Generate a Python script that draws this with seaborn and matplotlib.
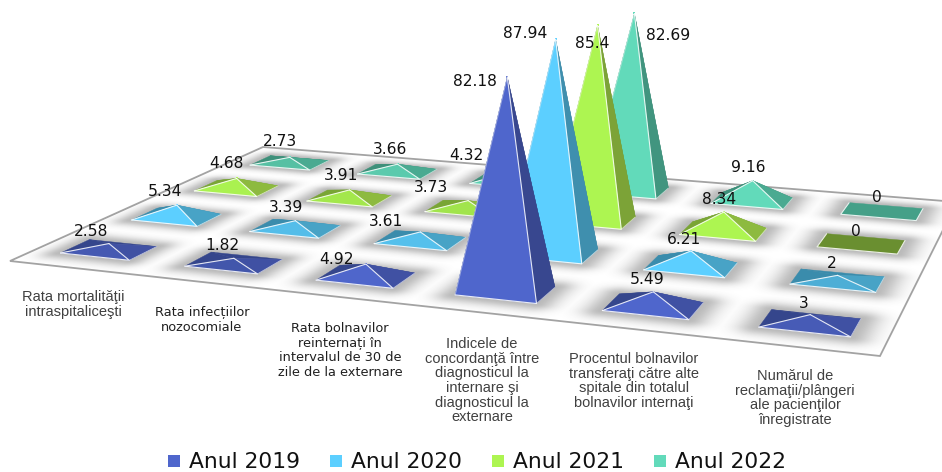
import numpy as np
import pandas as pd
import seaborn as sns
import matplotlib
matplotlib.use("Agg")
import matplotlib.pyplot as plt
from matplotlib.patches import Polygon

# Indicators along the front edge of the floor
categories = [
    "Rata mortalităţii\nintraspitaliceşti",
    "Rata infecțiilor\nnozocomiale",
    "Rata bolnavilor\nreinternați în\nintervalul de 30 de\nzile de la externare",
    "Indicele de\nconcordanţă între\ndiagnosticul la\ninternare şi\ndiagnosticul la\nexternare",
    "Procentul bolnavilor\ntransferaţi către alte\nspitale din totalul\nbolnavilor internaţi",
    "Numărul de\nreclamaţii/plângeri\nale pacienţilor\nînregistrate",
]
years = ["Anul 2019", "Anul 2020", "Anul 2021", "Anul 2022"]

values_2019 = [2.58, 1.82, 4.92, 82.18, 5.49, 3]
values_2020 = [5.34, 3.39, 3.61, 87.94, 6.21, 2]
values_2021 = [4.68, 3.91, 3.73, 85.4, 8.34, 0]
values_2022 = [2.73, 3.66, 4.32, 82.69, 9.16, 0]
series = [values_2019, values_2020, values_2021, values_2022]

front_colors = ["#4F66CC", "#5CCFFF", "#ADF551", "#62DABA"]
side_colors = ["#38478F", "#3F8FAE", "#7CA337", "#41957F"]
rear_colors = ["#30407F", "#357F9C", "#6E9630", "#37836F"]
flat_colors = ["#3D4E9B", "#3F8FAE", "#6A8F30", "#45A088"]

# Perspective of the floor: front-left, front-right, back-right, back-left, in pixels
FLOOR = np.array([[10, 261], [880, 356], [957, 202], [263, 147]], float)
HALF_U = 0.28 / 6
HALF_V = 0.195 / 4
HEIGHT_SCALE = 2.57

# Value label centres, in pixels, one row per year
label_x = [[91, 222, 337, 475, 647, 804],
           [165, 286, 386, 525, 684, 832],
           [226, 341, 431, 592, 719, 856],
           [280, 390, 466, 668, 748, 877]]
label_y = [[232, 246, 260, 82, 280, 303],
           [192, 207, 222, 34, 239, 263],
           [164, 176, 188, 44, 199, 231],
           [142, 150, 155, 36, 167, 198]]

# Indicator label centres and styling
cat_x = [73, 202, 340, 482, 634, 795]
cat_top = [297, 313, 329, 344, 359, 376]
cat_font = ["Liberation Sans", "DejaVu Sans", "DejaVu Sans",
            "Liberation Sans", "Liberation Sans", "Liberation Sans"]
cat_size = [10.5, 9.3, 9.3, 10.5, 10.5, 10.5]
cat_space = [1.06, 1.17, 1.17, 1.06, 1.06, 1.06]
cat_color = ["#404040", "#202020", "#202020", "#404040", "#404040", "#404040"]


def homography(src, dst):
    rows, rhs = [], []
    for (a, b), (c, d) in zip(src, dst):
        rows.append([a, b, 1, 0, 0, 0, -a * c, -b * c])
        rows.append([0, 0, 0, a, b, 1, -a * d, -b * d])
        rhs += [c, d]
    return np.append(np.linalg.solve(np.array(rows), np.array(rhs)), 1).reshape(3, 3)


UNIT = [(0, 0), (1, 0), (1, 1), (0, 1)]
H = homography(UNIT, FLOOR)
H = H / (H[2] @ [0.5, 0.125, 1])
H_INV = np.linalg.inv(H)


def project(u, v, z=0.0):
    p = H @ [u, v, 1]
    lean = 0.012 + 0.09 * v
    return ((p[0] + lean * z) / p[2], (p[1] - HEIGHT_SCALE * z) / p[2])


def shade(color, factor):
    return tuple(np.clip(np.array(matplotlib.colors.to_rgb(color)) * factor, 0, 1))


def base_centre(col, row):
    return (col + 0.5) / 6, (row + 0.5) / 4


sns.set_theme(style="white")
plt.rcParams["font.family"] = ["DejaVu Sans"]

fig = plt.figure(figsize=(9.42, 4.72), dpi=100)
ax = fig.add_axes([0, 0, 1, 1])

# Soft halo around every base, evaluated on the floor plane
gx, gy = np.meshgrid(np.arange(942) + 0.5, np.arange(472) + 0.5)
hom = H_INV[0, 0] * gx + H_INV[0, 1] * gy + H_INV[0, 2], \
      H_INV[1, 0] * gx + H_INV[1, 1] * gy + H_INV[1, 2], \
      H_INV[2, 0] * gx + H_INV[2, 1] * gy + H_INV[2, 2]
fu, fv = hom[0] / hom[2], hom[1] / hom[2]
halo = np.zeros_like(gx)
for r in range(4):
    for c in range(6):
        uc, vc = base_centre(c, r)
        du = np.maximum(np.abs(fu - uc) - HALF_U, 0) * 700
        dv = np.maximum(np.abs(fv - vc) - HALF_V, 0) * 380
        halo = np.maximum(halo, 0.36 * np.exp(-((du ** 2 + dv ** 2) / 15.0 ** 2)))
rgba = np.zeros(gx.shape + (4,))
rgba[..., :3] = 0.25
rgba[..., 3] = halo
floor_poly = Polygon(FLOOR, closed=True, facecolor="white", edgecolor="#A3A3A3", lw=1.3, zorder=1)
ax.add_patch(floor_poly)
image = ax.imshow(rgba, extent=(0, 942, 472, 0), zorder=2, interpolation="bilinear", aspect="auto")
image.set_clip_path(floor_poly)

# Apex positions, through seaborn, which also supplies the legend entries
records = []
for r, (year, vals) in enumerate(zip(years, series)):
    for c, val in enumerate(vals):
        uc, vc = base_centre(c, r)
        sx, sy = project(uc, vc, val)
        records.append({"Anul": year, "indicator": c, "valoare": val, "sx": sx, "sy": sy})
apexes = pd.DataFrame(records)
sns.scatterplot(data=apexes, x="sx", y="sy", hue="Anul", hue_order=years,
                palette=sns.color_palette(front_colors), marker="s", s=2, linewidth=0,
                ax=ax, zorder=2.5)

# Pyramids, painted from the back row to the front row
order = 3.0
for r in range(3, -1, -1):
    for c, val in enumerate(series[r]):
        uc, vc = base_centre(c, r)
        fl = project(uc - HALF_U, vc - HALF_V)
        fr = project(uc + HALF_U, vc - HALF_V)
        br = project(uc + HALF_U, vc + HALF_V)
        bl = project(uc - HALF_U, vc + HALF_V)
        top = project(uc, vc, val)
        if val == 0:
            ax.fill(*zip(fl, fr, br, bl), color=flat_colors[r], lw=0.3, zorder=order)
            ax.plot(*zip(bl, fl, fr, br), color="white", lw=0.8, alpha=0.85, zorder=order + 0.1)
        else:
            tall = val > 20
            light = float(np.clip(0.84 + 0.16 * (val - 2) / 3, 0.84, 1))
            side = side_colors[r] if tall else shade(side_colors[r], 1.14)
            rear = rear_colors[r] if tall else shade(rear_colors[r], 1.1)
            ax.fill(*zip(bl, br, top), color=rear, lw=0.3, zorder=order)
            ax.fill(*zip(fl, bl, top), color=rear, lw=0.3, zorder=order + 0.01)
            ax.fill(*zip(fr, br, top), color=side, lw=0.3, zorder=order + 0.02)
            ax.fill(*zip(fl, fr, top), color=shade(front_colors[r], light), lw=0.3, zorder=order + 0.03)
            ax.plot(*zip(fl, top), color="white", lw=0.8, alpha=0.45 if tall else 0.85, zorder=order + 0.04)
            ax.plot(*zip(top, fr, fl), color="white", lw=0.8, alpha=0.85, zorder=order + 0.04)
            ax.plot(*zip(fr, br), color="white", lw=0.6, alpha=0.6, zorder=order + 0.04)
        order += 0.1

# Value labels
for r, vals in enumerate(series):
    for c, val in enumerate(vals):
        ax.text(label_x[r][c], label_y[r][c], f"{val:g}", ha="center", va="center",
                fontsize=11.2, color="#111111", zorder=50)

# Indicator names under the floor
for text, x, y, font, size, space, color in zip(categories, cat_x, cat_top, cat_font,
                                                cat_size, cat_space, cat_color):
    ax.text(x, y - 7, text, ha="center", va="top", family=font, fontsize=size,
            color=color, linespacing=space, zorder=50)

handles, names = ax.get_legend_handles_labels()
for handle in handles:
    handle.set_markersize(8)
legend = ax.legend(handles, names, loc="center", bbox_to_anchor=(477, 462.5),
                   bbox_transform=ax.transData, ncol=4, frameon=False, fontsize=15.7,
                   handlelength=0.55, handletextpad=0.42, columnspacing=1.38,
                   borderpad=0, borderaxespad=0)
for txt in legend.get_texts():
    txt.set_color("#111111")

ax.set_xlim(0, 942)
ax.set_ylim(472, 0)
ax.set_axis_off()
fig.savefig("out.png", dpi=100, facecolor="white")
